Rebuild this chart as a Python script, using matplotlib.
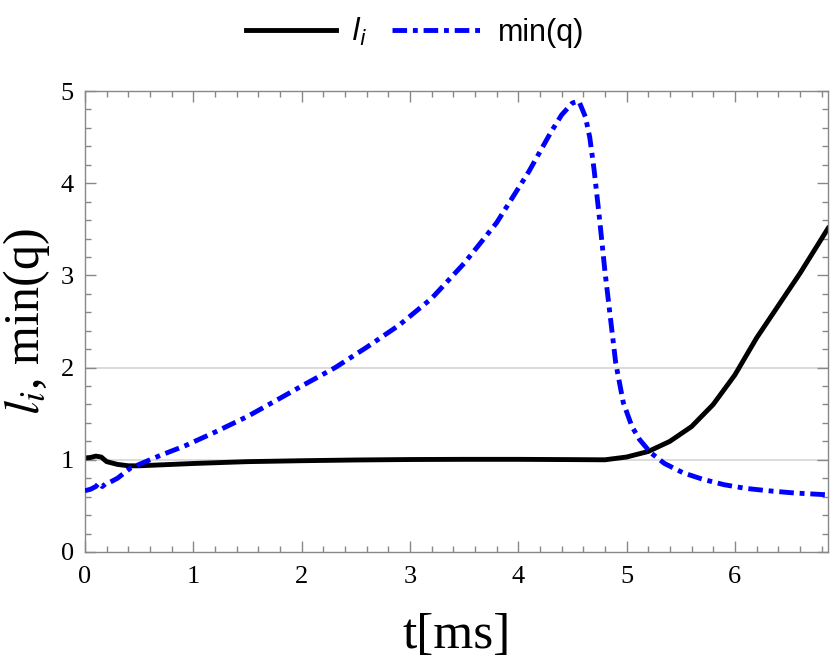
import matplotlib
matplotlib.use("Agg")
import matplotlib.pyplot as plt
from matplotlib.ticker import MultipleLocator

# l_i data
t_li = [0, 0.05, 0.1, 0.15, 0.2, 0.3, 0.4, 0.5, 0.7, 1.0, 1.5, 2.0, 2.5, 3.0, 3.5,
        4.0, 4.5, 4.8, 5.0, 5.2, 5.4, 5.6, 5.8, 6.0, 6.2, 6.4, 6.6, 6.86]
li = [1.02, 1.025, 1.04, 1.03, 0.98, 0.95, 0.935, 0.935, 0.945, 0.96, 0.98, 0.99,
      0.998, 1.003, 1.005, 1.005, 1.002, 1.0, 1.03, 1.09, 1.2, 1.36, 1.6, 1.92,
      2.32, 2.67, 3.02, 3.51]

# min(q) data
t_q = [0, 0.05, 0.1, 0.13, 0.16, 0.19, 0.22, 0.3, 0.42, 0.7, 0.92, 1.2, 1.5, 1.85,
       2.0, 2.31, 2.6, 2.9, 3.2, 3.5, 3.8, 4.1, 4.3, 4.4, 4.5, 4.56, 4.62, 4.66,
       4.7, 4.75, 4.8, 4.85, 4.9, 4.97, 5.05, 5.12, 5.22, 5.35, 5.52, 5.7, 5.9,
       6.1, 6.3, 6.55, 6.86]
minq = [0.665, 0.68, 0.71, 0.75, 0.71, 0.74, 0.75, 0.80, 0.91, 1.05, 1.15, 1.30,
        1.47, 1.70, 1.80, 2.0, 2.22, 2.46, 2.75, 3.13, 3.57, 4.13, 4.55, 4.74,
        4.87, 4.89, 4.72, 4.50, 4.15, 3.62, 3.05, 2.55, 2.05, 1.62, 1.36, 1.22,
        1.08, 0.96, 0.86, 0.79, 0.73, 0.69, 0.665, 0.64, 0.62]

xlim = (0, 6.86)
ylim = (0, 5)
xticks = [0, 1, 2, 3, 4, 5, 6]
yticks = [0, 1, 2, 3, 4, 5]
gridlines_y = [1, 2]

fig = plt.figure(figsize=(8.3, 6.6), dpi=100)
ax = fig.add_axes([85/830, 1-552/660, (828-85)/830, (552-91)/660])

for g in gridlines_y:
    ax.axhline(g, color="#d9d9d9", lw=1.3, zorder=0)

ax.plot(t_li, li, color="black", lw=3.5, label=r"$l_i$", zorder=2)
ax.plot(t_q, minq, color="#0000ff", lw=3.5, label="min(q)", zorder=3,
        linestyle=(0, (3.0, 1.2, 1.0, 1.2)))

ax.set_xlim(*xlim)
ax.set_ylim(*ylim)
ax.set_xticks(xticks)
ax.set_yticks(yticks)
ax.xaxis.set_minor_locator(MultipleLocator(0.2))
ax.yaxis.set_minor_locator(MultipleLocator(0.2))
ax.tick_params(which="both", direction="in", top=True, right=True,
               color="#888888", width=1.0)
ax.tick_params(which="major", length=8)
ax.tick_params(which="minor", length=4)
ax.tick_params(axis="y", pad=8)
ax.tick_params(axis="x", pad=10)
ax.tick_params(labeltop=False, labelright=False)
for lab in ax.get_xticklabels() + ax.get_yticklabels():
    lab.set_family("Liberation Serif")
    lab.set_fontsize(19)
for s in ax.spines.values():
    s.set_color("#888888")
    s.set_linewidth(1.0)

ax.set_xlabel("t[ms]", fontsize=37, family="Liberation Serif", labelpad=18)
yl = ax.set_ylabel(r"$l_i$, min(q)", fontsize=36, family="Liberation Serif",
                   labelpad=6)
yl.set_math_fontfamily("stix")

leg = fig.legend(loc="upper center", bbox_to_anchor=(0.5, 1.018), ncol=2,
                 frameon=False, handlelength=2.95,
                 columnspacing=0.8, handletextpad=0.5,
                 prop={"family": "Liberation Sans", "size": 22})
for t in leg.get_texts():
    t.set_math_fontfamily("dejavusans")

fig.savefig("out.png", dpi=100)
